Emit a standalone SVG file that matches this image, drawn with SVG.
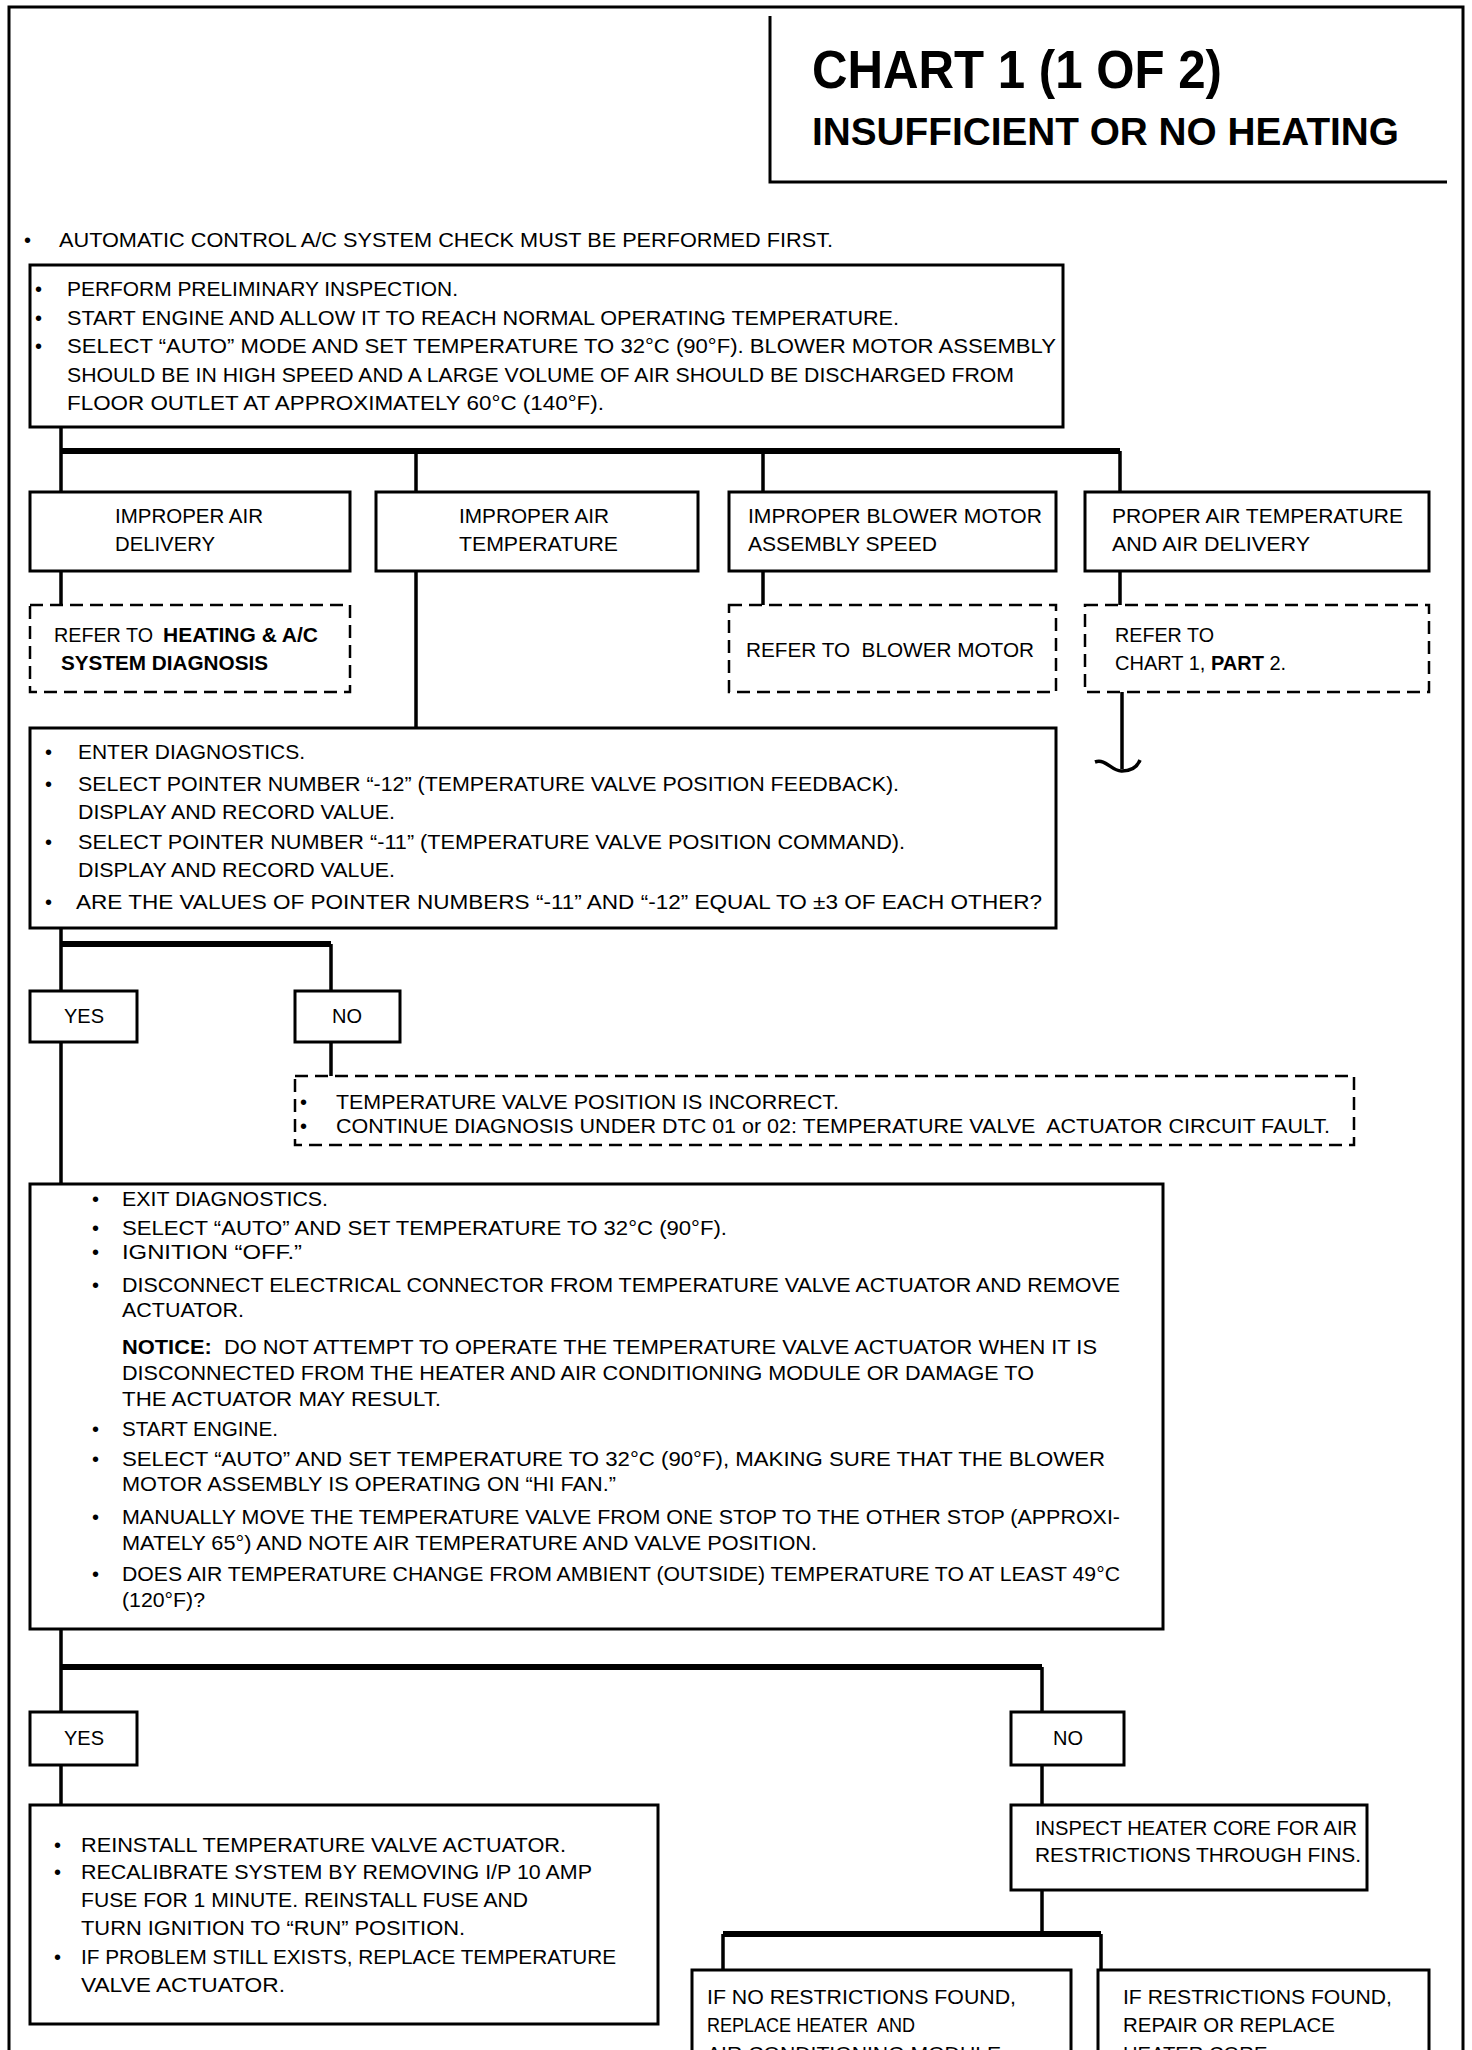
<svg xmlns="http://www.w3.org/2000/svg" width="1472" height="2050" viewBox="0 0 1472 2050">
<style>
text{font-family:"Liberation Sans Narrow","Liberation Sans",Arial,sans-serif;font-size:20px;fill:#000}
.b{font-weight:bold}
.t1{font-size:54px;font-weight:bold}
.t2{font-size:38px;font-weight:bold}
.box{fill:#fff;stroke:#000;stroke-width:3}
.dash{fill:#fff;stroke:#000;stroke-width:2.5;stroke-dasharray:13 7}
.ln{stroke:#000;stroke-width:3.5;fill:none}
.bus{stroke:#000;stroke-width:6;fill:none}
.fr{stroke:#000;stroke-width:3;fill:none}
</style>
<rect width="1472" height="2050" fill="#fff"/>
<g id="frame">
<path class="fr" d="M9 2060 V7 H1463 V2060"/>
<path class="fr" d="M770 16 V182 H1447" stroke-width="2.5"/>
</g>
<g id="title">
<text class="t1" x="812" y="88" textLength="410" lengthAdjust="spacingAndGlyphs">CHART 1 (1 OF 2)</text>
<text class="t2" x="812" y="145" textLength="587" lengthAdjust="spacingAndGlyphs">INSUFFICIENT OR NO HEATING</text>
</g>
<g id="intro">
<text x="24" y="247">•</text>
<text x="59" y="247" textLength="774" lengthAdjust="spacingAndGlyphs">AUTOMATIC CONTROL A/C SYSTEM CHECK MUST BE PERFORMED FIRST.</text>
</g>
<g id="connectors">
<path class="ln" d="M61 427 V492 M416 451 V492 M763 451 V492 M1120 451 V492"/>
<path class="bus" d="M61 451 H1120"/>
<path class="ln" d="M61 571 V605 M763 571 V605 M1120 571 V605 M416 571 V728"/>
<path class="ln" d="M1122 692 V769"/>
<path class="ln" d="M1095 762 C1106 758 1112 772 1122 771 C1133 771 1138 765 1140 760" stroke-width="3"/>
<path class="ln" d="M61 928 V991 M331 944 V991 M61 1042 V1184 M331 1042 V1076"/>
<path class="bus" d="M61 944 H331"/>
<path class="ln" d="M61 1629 V1712 M1042 1667 V1712 M61 1765 V1805 M1042 1765 V1805"/>
<path class="bus" d="M61 1667 H1042"/>
<path class="ln" d="M1042 1890 V1934 M723 1934 V1970 M1101 1934 V1970"/>
<path class="bus" d="M723 1934 H1101"/>
</g>
<g id="n_prelim">
<rect class="box" x="30" y="265" width="1033" height="162"/>
<text x="35" y="296">•</text><text x="35" y="325">•</text><text x="35" y="353">•</text>
<text x="67" y="296" textLength="391" lengthAdjust="spacingAndGlyphs">PERFORM PRELIMINARY INSPECTION.</text>
<text x="67" y="325" textLength="832" lengthAdjust="spacingAndGlyphs">START ENGINE AND ALLOW IT TO REACH NORMAL OPERATING TEMPERATURE.</text>
<text x="67" y="353" textLength="989" lengthAdjust="spacingAndGlyphs">SELECT “AUTO” MODE AND SET TEMPERATURE TO 32°C (90°F). BLOWER MOTOR ASSEMBLY</text>
<text x="67" y="382" textLength="947" lengthAdjust="spacingAndGlyphs">SHOULD BE IN HIGH SPEED AND A LARGE VOLUME OF AIR SHOULD BE DISCHARGED FROM</text>
<text x="67" y="410" textLength="537" lengthAdjust="spacingAndGlyphs">FLOOR OUTLET AT APPROXIMATELY 60°C (140°F).</text>
</g>
<g id="n_air_delivery">
<rect class="box" x="30" y="492" width="320" height="79"/>
<text x="115" y="523" textLength="148" lengthAdjust="spacingAndGlyphs">IMPROPER AIR</text>
<text x="115" y="551" textLength="100" lengthAdjust="spacingAndGlyphs">DELIVERY</text>
</g>
<g id="n_air_temp">
<rect class="box" x="376" y="492" width="322" height="79"/>
<text x="459" y="523" textLength="150" lengthAdjust="spacingAndGlyphs">IMPROPER AIR</text>
<text x="459" y="551" textLength="159" lengthAdjust="spacingAndGlyphs">TEMPERATURE</text>
</g>
<g id="n_blower_speed">
<rect class="box" x="729" y="492" width="327" height="79"/>
<text x="748" y="523" textLength="294" lengthAdjust="spacingAndGlyphs">IMPROPER BLOWER MOTOR</text>
<text x="748" y="551" textLength="189" lengthAdjust="spacingAndGlyphs">ASSEMBLY SPEED</text>
</g>
<g id="n_proper">
<rect class="box" x="1085" y="492" width="344" height="79"/>
<text x="1112" y="523" textLength="291" lengthAdjust="spacingAndGlyphs">PROPER AIR TEMPERATURE</text>
<text x="1112" y="551" textLength="198" lengthAdjust="spacingAndGlyphs">AND AIR DELIVERY</text>
</g>
<g id="n_refer_hvac">
<rect class="dash" x="30" y="605" width="320" height="87"/>
<text x="54" y="642" textLength="99" lengthAdjust="spacingAndGlyphs">REFER TO</text>
<text class="b" x="163" y="642" textLength="155" lengthAdjust="spacingAndGlyphs">HEATING &amp; A/C</text>
<text class="b" x="61" y="670" textLength="207" lengthAdjust="spacingAndGlyphs">SYSTEM DIAGNOSIS</text>
</g>
<g id="n_refer_blower">
<rect class="dash" x="729" y="605" width="327" height="87"/>
<text x="746" y="657" textLength="288" lengthAdjust="spacingAndGlyphs">REFER TO&#160; BLOWER MOTOR</text>
</g>
<g id="n_refer_part2">
<rect class="dash" x="1085" y="605" width="344" height="87"/>
<text x="1115" y="642" textLength="99" lengthAdjust="spacingAndGlyphs">REFER TO</text>
<text x="1115" y="670">CHART 1, <tspan class="b">PART</tspan> 2.</text>
</g>
<g id="n_diag">
<rect class="box" x="30" y="728" width="1026" height="200"/>
<text x="45" y="759">•</text><text x="45" y="791">•</text><text x="45" y="849">•</text><text x="45" y="909">•</text>
<text x="78" y="759" textLength="227" lengthAdjust="spacingAndGlyphs">ENTER DIAGNOSTICS.</text>
<text x="78" y="791" textLength="821" lengthAdjust="spacingAndGlyphs">SELECT POINTER NUMBER “-12” (TEMPERATURE VALVE POSITION FEEDBACK).</text>
<text x="78" y="819" textLength="317" lengthAdjust="spacingAndGlyphs">DISPLAY AND RECORD VALUE.</text>
<text x="78" y="849" textLength="827" lengthAdjust="spacingAndGlyphs">SELECT POINTER NUMBER “-11” (TEMPERATURE VALVE POSITION COMMAND).</text>
<text x="78" y="877" textLength="317" lengthAdjust="spacingAndGlyphs">DISPLAY AND RECORD VALUE.</text>
<text x="76" y="909" textLength="966" lengthAdjust="spacingAndGlyphs">ARE THE VALUES OF POINTER NUMBERS “-11” AND “-12” EQUAL TO ±3 OF EACH OTHER?</text>
</g>
<g id="n_yes1">
<rect class="box" x="30" y="991" width="107" height="51"/>
<text x="84" y="1023" text-anchor="middle">YES</text>
</g>
<g id="n_no1">
<rect class="box" x="295" y="991" width="105" height="51"/>
<text x="347" y="1023" text-anchor="middle">NO</text>
</g>
<g id="n_valve_incorrect">
<rect class="dash" x="295" y="1076" width="1059" height="69"/>
<text x="300" y="1109">•</text><text x="300" y="1133">•</text>
<text x="336" y="1109" textLength="503" lengthAdjust="spacingAndGlyphs">TEMPERATURE VALVE POSITION IS INCORRECT.</text>
<text x="336" y="1133" textLength="994" lengthAdjust="spacingAndGlyphs">CONTINUE DIAGNOSIS UNDER DTC 01 or 02: TEMPERATURE VALVE&#160; ACTUATOR CIRCUIT FAULT.</text>
</g>
<g id="n_exit">
<rect class="box" x="30" y="1184" width="1133" height="445"/>
<text x="92" y="1206">•</text><text x="92" y="1235">•</text><text x="92" y="1259">•</text><text x="92" y="1292">•</text>
<text x="92" y="1436">•</text><text x="92" y="1466">•</text><text x="92" y="1524">•</text><text x="92" y="1581">•</text>
<text x="122" y="1206" textLength="206" lengthAdjust="spacingAndGlyphs">EXIT DIAGNOSTICS.</text>
<text x="122" y="1235" textLength="605" lengthAdjust="spacingAndGlyphs">SELECT “AUTO” AND SET TEMPERATURE TO 32°C (90°F).</text>
<text x="122" y="1259" textLength="180" lengthAdjust="spacingAndGlyphs">IGNITION “OFF.”</text>
<text x="122" y="1292" textLength="998" lengthAdjust="spacingAndGlyphs">DISCONNECT ELECTRICAL CONNECTOR FROM TEMPERATURE VALVE ACTUATOR AND REMOVE</text>
<text x="122" y="1317" textLength="122" lengthAdjust="spacingAndGlyphs">ACTUATOR.</text>
<text x="122" y="1354" textLength="975" lengthAdjust="spacingAndGlyphs"><tspan class="b">NOTICE:</tspan>&#160; DO NOT ATTEMPT TO OPERATE THE TEMPERATURE VALVE ACTUATOR WHEN IT IS</text>
<text x="122" y="1380" textLength="912" lengthAdjust="spacingAndGlyphs">DISCONNECTED FROM THE HEATER AND AIR CONDITIONING MODULE OR DAMAGE TO</text>
<text x="122" y="1406" textLength="319" lengthAdjust="spacingAndGlyphs">THE ACTUATOR MAY RESULT.</text>
<text x="122" y="1436" textLength="156" lengthAdjust="spacingAndGlyphs">START ENGINE.</text>
<text x="122" y="1466" textLength="983" lengthAdjust="spacingAndGlyphs">SELECT “AUTO” AND SET TEMPERATURE TO 32°C (90°F), MAKING SURE THAT THE BLOWER</text>
<text x="122" y="1491" textLength="494" lengthAdjust="spacingAndGlyphs">MOTOR ASSEMBLY IS OPERATING ON “HI FAN.”</text>
<text x="122" y="1524" textLength="998" lengthAdjust="spacingAndGlyphs">MANUALLY MOVE THE TEMPERATURE VALVE FROM ONE STOP TO THE OTHER STOP (APPROXI-</text>
<text x="122" y="1550" textLength="695" lengthAdjust="spacingAndGlyphs">MATELY 65°) AND NOTE AIR TEMPERATURE AND VALVE POSITION.</text>
<text x="122" y="1581" textLength="998" lengthAdjust="spacingAndGlyphs">DOES AIR TEMPERATURE CHANGE FROM AMBIENT (OUTSIDE) TEMPERATURE TO AT LEAST 49°C</text>
<text x="122" y="1607" textLength="83" lengthAdjust="spacingAndGlyphs">(120°F)?</text>
</g>
<g id="n_yes2">
<rect class="box" x="30" y="1712" width="107" height="53"/>
<text x="84" y="1745" text-anchor="middle">YES</text>
</g>
<g id="n_no2">
<rect class="box" x="1011" y="1712" width="113" height="53"/>
<text x="1068" y="1745" text-anchor="middle">NO</text>
</g>
<g id="n_reinstall">
<rect class="box" x="30" y="1805" width="628" height="219"/>
<text x="54" y="1852">•</text><text x="54" y="1879">•</text><text x="54" y="1964">•</text>
<text x="81" y="1852" textLength="485" lengthAdjust="spacingAndGlyphs">REINSTALL TEMPERATURE VALVE ACTUATOR.</text>
<text x="81" y="1879" textLength="511" lengthAdjust="spacingAndGlyphs">RECALIBRATE SYSTEM BY REMOVING I/P 10 AMP</text>
<text x="81" y="1907" textLength="447" lengthAdjust="spacingAndGlyphs">FUSE FOR 1 MINUTE. REINSTALL FUSE AND</text>
<text x="81" y="1935" textLength="384" lengthAdjust="spacingAndGlyphs">TURN IGNITION TO “RUN” POSITION.</text>
<text x="81" y="1964" textLength="535" lengthAdjust="spacingAndGlyphs">IF PROBLEM STILL EXISTS, REPLACE TEMPERATURE</text>
<text x="81" y="1992" textLength="204" lengthAdjust="spacingAndGlyphs">VALVE ACTUATOR.</text>
</g>
<g id="n_inspect">
<rect class="box" x="1011" y="1805" width="356" height="85"/>
<text x="1035" y="1835" textLength="322" lengthAdjust="spacingAndGlyphs">INSPECT HEATER CORE FOR AIR</text>
<text x="1035" y="1862" textLength="326" lengthAdjust="spacingAndGlyphs">RESTRICTIONS THROUGH FINS.</text>
</g>
<g id="n_replace_module">
<rect class="box" x="692" y="1970" width="379" height="100"/>
<text x="707" y="2004" textLength="309" lengthAdjust="spacingAndGlyphs">IF NO RESTRICTIONS FOUND,</text>
<text x="707" y="2032" textLength="208" lengthAdjust="spacingAndGlyphs">REPLACE HEATER&#160; AND</text>
<text x="707" y="2061" textLength="300" lengthAdjust="spacingAndGlyphs">AIR CONDITIONING MODULE.</text>
</g>
<g id="n_repair_core">
<rect class="box" x="1098" y="1970" width="331" height="100"/>
<text x="1123" y="2004" textLength="269" lengthAdjust="spacingAndGlyphs">IF RESTRICTIONS FOUND,</text>
<text x="1123" y="2032" textLength="212" lengthAdjust="spacingAndGlyphs">REPAIR OR REPLACE</text>
<text x="1123" y="2061" textLength="150" lengthAdjust="spacingAndGlyphs">HEATER CORE.</text>
</g>
</svg>
